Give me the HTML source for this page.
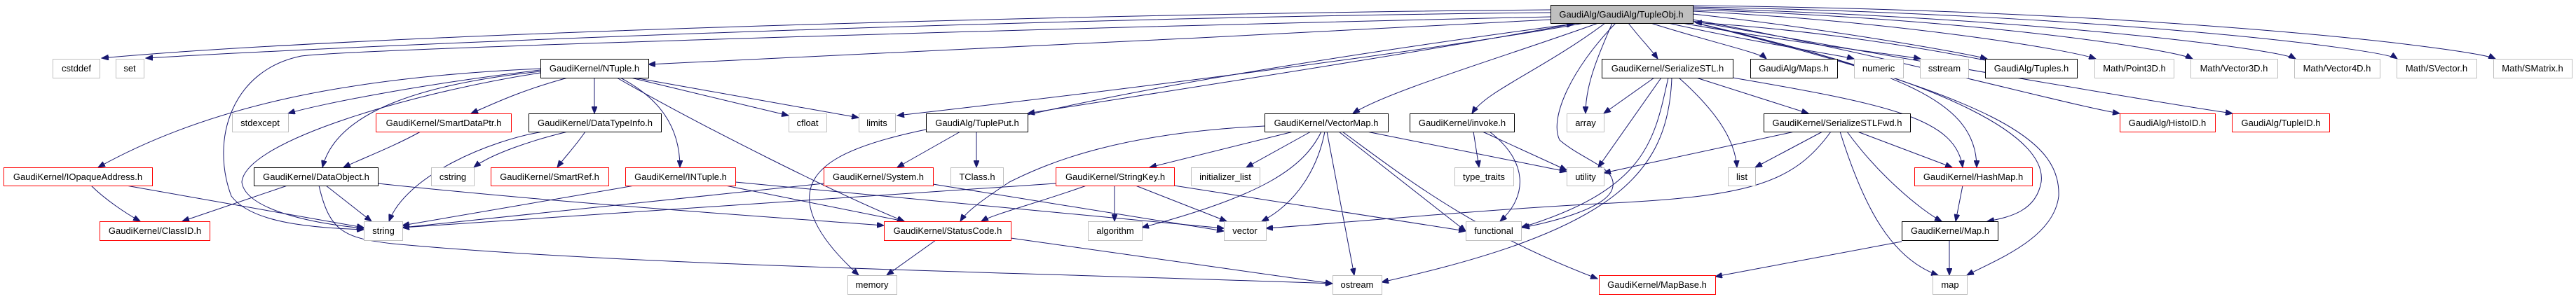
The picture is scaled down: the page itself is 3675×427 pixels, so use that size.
<!DOCTYPE html>
<html><head><meta charset="utf-8"><style>
html,body{margin:0;padding:0;background:#fff;}
svg{display:block;}
text{font-family:"Liberation Sans",Arial,sans-serif;font-size:13px;fill:#000;}
.e{fill:none;stroke:#191970;stroke-width:1;}
.g{fill:#fff;stroke:#bfbfbf;}
.b{fill:#fff;stroke:#000;}
.r{fill:#fff;stroke:#ff0000;}
</style></head><body>
<svg width="3675" height="427" viewBox="0 0 3675 427" xmlns="http://www.w3.org/2000/svg">
<defs><marker id="a" markerUnits="userSpaceOnUse" markerWidth="11" markerHeight="8" refX="10" refY="4" orient="auto"><path d="M0,0 L10,4 L0,8 z" fill="#191970" stroke="#191970"/></marker></defs>
<g class="e" marker-end="url(#a)">
<path d="M2212 14 C1500 20 500 50 145 83"/>
<path d="M2212 18 C1500 25 600 60 208 83"/>
<path d="M2212 24 C1500 40 500 70 430 80 C330 100 300 200 330 280 C360 320 450 325 519 328"/>
<path d="M2212 28 C1800 50 1200 80 925 92"/>
<path d="M2260 33 C2000 80 1500 140 1280 165"/>
<path d="M2250 33 C2000 80 1600 140 1466 162"/>
<path d="M1466 164 C1700 110 2050 60 2245 34"/>
<path d="M2280 33 C2150 80 1980 130 1930 162"/>
<path d="M2290 33 C2200 100 2120 130 2100 162"/>
<path d="M2300 33 C2280 80 2262 120 2262 162"/>
<path d="M2323 33 C2340 55 2355 70 2365 84"/>
<path d="M2355 33 C2440 60 2510 75 2520 84"/>
<path d="M2380 33 C2500 60 2630 80 2645 84"/>
<path d="M2400 33 C2550 60 2720 80 2740 84"/>
<path d="M2415 20 C2600 40 2800 75 2835 84"/>
<path d="M2832 86 C2700 60 2550 40 2418 32"/>
<path d="M2415 16 C2700 30 2950 70 2990 84"/>
<path d="M2415 14 C2800 25 3100 70 3128 84"/>
<path d="M2415 12 C2900 25 3250 70 3275 84"/>
<path d="M2415 10 C3000 20 3400 70 3420 84"/>
<path d="M2415 8 C3100 15 3530 70 3560 84"/>
<path d="M2415 28 C2700 80 2950 150 3024 162"/>
<path d="M2415 30 C2750 90 3100 150 3185 162"/>
<path d="M2420 33 C2700 100 2820 140 2820 239"/>
<path d="M2420 33 C2800 120 2920 200 2912 260 C2905 300 2870 310 2835 316"/>
<path d="M2420 33 C2850 140 2940 200 2937 280 C2930 340 2850 370 2806 393"/>
<path d="M2305 33 C2240 100 2210 170 2225 200 C2260 230 2310 240 2300 270 C2290 300 2200 320 2172 325"/>
<path d="M771 100 C600 120 450 150 411 162"/>
<path d="M771 98 C500 110 300 150 140 239"/>
<path d="M771 102 C600 120 480 160 460 239"/>
<path d="M810 111 C740 130 700 150 672 162"/>
<path d="M848 111 L848 162"/>
<path d="M771 104 C600 130 350 200 345 260 C350 300 450 320 519 326"/>
<path d="M885 111 C940 140 970 180 970 239"/>
<path d="M900 111 L1125 165"/>
<path d="M905 111 L1225 168"/>
<path d="M880 111 C1000 180 1200 280 1290 316"/>
<path d="M600 188 C560 210 520 225 490 239"/>
<path d="M775 188 C700 200 580 250 555 316"/>
<path d="M810 188 C760 200 700 220 676 239"/>
<path d="M835 188 C820 210 805 225 795 239"/>
<path d="M130 265 C150 285 180 305 200 316"/>
<path d="M180 265 L519 325"/>
<path d="M410 265 L260 316"/>
<path d="M465 265 L530 316"/>
<path d="M539 262 C800 290 1100 310 1261 322"/>
<path d="M455 265 C470 330 490 340 560 348 C900 380 1500 390 1901 405"/>
<path d="M905 265 L574 322"/>
<path d="M1035 265 L1290 316"/>
<path d="M1049 260 L1746 326"/>
<path d="M1321 185 C1200 210 1150 240 1155 290 C1160 330 1200 370 1225 393"/>
<path d="M1370 188 L1280 239"/>
<path d="M1393 188 L1393 239"/>
<path d="M1175 262 L574 325"/>
<path d="M1331 263 L1746 330"/>
<path d="M1335 343 L1265 393"/>
<path d="M1442 340 L1901 405"/>
<path d="M1804 180 C1600 190 1500 230 1440 260 C1410 280 1380 300 1370 316"/>
<path d="M1845 188 L1640 239"/>
<path d="M1870 188 L1778 239"/>
<path d="M1885 188 C1860 240 1800 280 1629 325"/>
<path d="M1890 188 C1880 240 1850 290 1800 316"/>
<path d="M1893 188 L1932 393"/>
<path d="M1910 188 L2091 330"/>
<path d="M1915 188 C2000 250 2100 330 2279 398"/>
<path d="M1950 188 L2235 245"/>
<path d="M1506 262 L574 325"/>
<path d="M1550 265 C1480 290 1420 305 1400 316"/>
<path d="M1590 265 L1590 316"/>
<path d="M1620 265 L1750 316"/>
<path d="M1675 265 L2091 330"/>
<path d="M2102 188 L2110 239"/>
<path d="M2115 188 L2235 243"/>
<path d="M2125 188 C2180 230 2180 280 2140 316"/>
<path d="M2360 111 L2288 162"/>
<path d="M2370 111 L2280 239"/>
<path d="M2380 111 C2360 200 2350 270 2170 325"/>
<path d="M2385 111 C2380 250 2300 330 1971 403"/>
<path d="M2395 111 C2450 160 2475 200 2478 239"/>
<path d="M2420 111 L2580 162"/>
<path d="M2472 111 C2700 150 2790 170 2800 239"/>
<path d="M2560 188 L2288 247"/>
<path d="M2600 188 L2504 239"/>
<path d="M2612 188 C2560 260 2500 280 2300 290 C2100 300 1900 320 1806 326"/>
<path d="M2625 188 C2660 300 2700 370 2765 393"/>
<path d="M2635 188 C2680 250 2740 300 2770 316"/>
<path d="M2650 188 L2785 239"/>
<path d="M2800 265 L2790 316"/>
<path d="M2781 343 L2781 393"/>
<path d="M2713 345 L2447 395"/>
</g>
<g text-anchor="middle">
<rect x="2212.5" y="7.5" width="203" height="26" fill="#bfbfbf" stroke="#000"/><text x="2313" y="25">GaudiAlg/GaudiAlg/TupleObj.h</text>
<rect class="g" x="75.5" y="84.5" width="67" height="27"/><text x="109" y="102">cstddef</text>
<rect class="g" x="165.5" y="84.5" width="40" height="27"/><text x="185" y="102">set</text>
<rect class="b" x="771.5" y="84.5" width="154" height="27"/><text x="848" y="102">GaudiKernel/NTuple.h</text>
<rect class="b" x="2285.5" y="84.5" width="187" height="27"/><text x="2379" y="102">GaudiKernel/SerializeSTL.h</text>
<rect class="b" x="2497.5" y="84.5" width="124" height="27"/><text x="2559" y="102">GaudiAlg/Maps.h</text>
<rect class="g" x="2645.5" y="84.5" width="70" height="27"/><text x="2680" y="102">numeric</text>
<rect class="g" x="2739.5" y="84.5" width="69" height="27"/><text x="2774" y="102">sstream</text>
<rect class="b" x="2832.5" y="84.5" width="131" height="27"/><text x="2898" y="102">GaudiAlg/Tuples.h</text>
<rect class="g" x="2988.5" y="84.5" width="113" height="27"/><text x="3045" y="102">Math/Point3D.h</text>
<rect class="g" x="3125.5" y="84.5" width="124" height="27"/><text x="3187" y="102">Math/Vector3D.h</text>
<rect class="g" x="3273.5" y="84.5" width="122" height="27"/><text x="3334" y="102">Math/Vector4D.h</text>
<rect class="g" x="3419.5" y="84.5" width="114" height="27"/><text x="3476" y="102">Math/SVector.h</text>
<rect class="g" x="3557.5" y="84.5" width="112" height="27"/><text x="3613" y="102">Math/SMatrix.h</text>
<rect class="g" x="331.5" y="162.5" width="80" height="26"/><text x="371" y="180">stdexcept</text>
<rect class="r" x="536.5" y="162.5" width="193" height="26"/><text x="633" y="180">GaudiKernel/SmartDataPtr.h</text>
<rect class="b" x="754.5" y="162.5" width="189" height="26"/><text x="849" y="180">GaudiKernel/DataTypeInfo.h</text>
<rect class="g" x="1125.5" y="162.5" width="54" height="26"/><text x="1152" y="180">cfloat</text>
<rect class="g" x="1225.5" y="162.5" width="52" height="26"/><text x="1251" y="180">limits</text>
<rect class="b" x="1321.5" y="162.5" width="145" height="26"/><text x="1394" y="180">GaudiAlg/TuplePut.h</text>
<rect class="b" x="1804.5" y="162.5" width="176" height="26"/><text x="1892" y="180">GaudiKernel/VectorMap.h</text>
<rect class="b" x="2011.5" y="162.5" width="149" height="26"/><text x="2086" y="180">GaudiKernel/invoke.h</text>
<rect class="g" x="2235.5" y="162.5" width="53" height="26"/><text x="2262" y="180">array</text>
<rect class="b" x="2516.5" y="162.5" width="209" height="26"/><text x="2621" y="180">GaudiKernel/SerializeSTLFwd.h</text>
<rect class="r" x="3024.5" y="162.5" width="136" height="26"/><text x="3092" y="180">GaudiAlg/HistoID.h</text>
<rect class="r" x="3184.5" y="162.5" width="139" height="26"/><text x="3254" y="180">GaudiAlg/TupleID.h</text>
<rect class="r" x="5.5" y="239.5" width="212" height="26"/><text x="111" y="257">GaudiKernel/IOpaqueAddress.h</text>
<rect class="b" x="362.5" y="239.5" width="177" height="26"/><text x="451" y="257">GaudiKernel/DataObject.h</text>
<rect class="g" x="615.5" y="239.5" width="61" height="26"/><text x="646" y="257">cstring</text>
<rect class="r" x="700.5" y="239.5" width="168" height="26"/><text x="784" y="257">GaudiKernel/SmartRef.h</text>
<rect class="r" x="892.5" y="239.5" width="157" height="26"/><text x="971" y="257">GaudiKernel/INTuple.h</text>
<rect class="r" x="1175.5" y="239.5" width="156" height="26"/><text x="1253" y="257">GaudiKernel/System.h</text>
<rect class="g" x="1356.5" y="239.5" width="75" height="26"/><text x="1394" y="257">TClass.h</text>
<rect class="r" x="1506.5" y="239.5" width="169" height="26"/><text x="1591" y="257">GaudiKernel/StringKey.h</text>
<rect class="g" x="1699.5" y="239.5" width="98" height="26"/><text x="1748" y="257">initializer_list</text>
<rect class="g" x="2075.5" y="239.5" width="84" height="26"/><text x="2117" y="257">type_traits</text>
<rect class="g" x="2235.5" y="239.5" width="53" height="26"/><text x="2262" y="257">utility</text>
<rect class="g" x="2465.5" y="239.5" width="39" height="26"/><text x="2485" y="257">list</text>
<rect class="r" x="2731.5" y="239.5" width="168" height="26"/><text x="2815" y="257">GaudiKernel/HashMap.h</text>
<rect class="r" x="142.5" y="316.5" width="157" height="27"/><text x="221" y="334">GaudiKernel/ClassID.h</text>
<rect class="g" x="519.5" y="316.5" width="55" height="27"/><text x="547" y="334">string</text>
<rect class="r" x="1261.5" y="316.5" width="181" height="27"/><text x="1352" y="334">GaudiKernel/StatusCode.h</text>
<rect class="g" x="1552.5" y="316.5" width="77" height="27"/><text x="1591" y="334">algorithm</text>
<rect class="g" x="1746.5" y="316.5" width="60" height="27"/><text x="1776" y="334">vector</text>
<rect class="g" x="2091.5" y="316.5" width="79" height="27"/><text x="2131" y="334">functional</text>
<rect class="b" x="2713.5" y="316.5" width="137" height="27"/><text x="2782" y="334">GaudiKernel/Map.h</text>
<rect class="g" x="1209.5" y="393.5" width="70" height="27"/><text x="1244" y="411">memory</text>
<rect class="g" x="1901.5" y="393.5" width="70" height="27"/><text x="1936" y="411">ostream</text>
<rect class="r" x="2281.5" y="393.5" width="166" height="27"/><text x="2364" y="411">GaudiKernel/MapBase.h</text>
<rect class="g" x="2757.5" y="393.5" width="49" height="27"/><text x="2782" y="411">map</text>
</g>
</svg>
</body></html>
